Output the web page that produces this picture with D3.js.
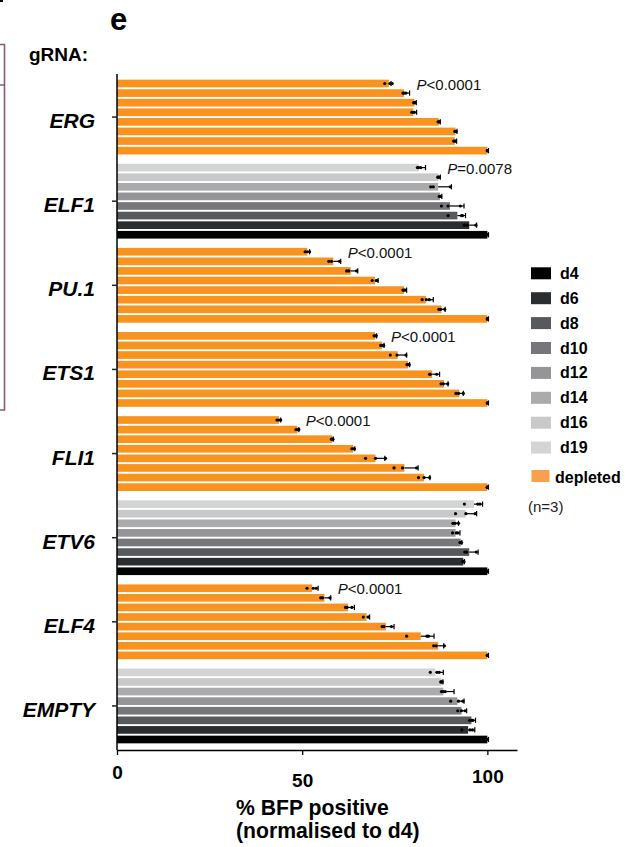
<!DOCTYPE html>
<html>
<head>
<meta charset="utf-8">
<script src="https://cdn.jsdelivr.net/npm/d3@7"></script>
<style>
  html, body { margin: 0; padding: 0; background: #fff; }
  svg { display: block; font-family: "Liberation Sans", Arial, sans-serif; }
</style>
</head>
<body>
<svg id="chart" width="626" height="847"></svg>
<script>
// ---------------- DATA ----------------
const genes = ["ERG", "ELF1", "PU.1", "ETS1", "FLI1", "ETV6", "ELF4", "EMPTY"];
const days = ["d4", "d6", "d8", "d10", "d12", "d14", "d16", "d19"];
const depletedGenes = ["ERG", "PU.1", "ETS1", "FLI1", "ELF4"];
const xTicks = [0, 50, 100];

// means, in order d4, d6, d8, d10, d12, d14, d16, d19
const meanERG   = [100, 91.2, 91.4, 86.9, 80.0, 80.3, 77.5, 73.4];
const meanELF1  = [100, 95.1, 91.9, 89.9, 87.2, 86.7, 86.8, 81.5];
const meanPU1   = [100, 87.6, 83.4, 77.5, 69.7, 63.1, 58.4, 51.4];
const meanETS1  = [100, 92.4, 88.3, 85.1, 78.6, 75.8, 71.6, 69.7];
const meanFLI1  = [100, 82.9, 77.6, 69.8, 63.8, 58.1, 48.7, 43.7];
const meanETV6  = [100, 93.5, 95.1, 92.8, 91.4, 91.4, 94.1, 96.4];
const meanELF4  = [100, 86.7, 82.0, 72.6, 67.4, 62.4, 56.0, 52.7];
const meanEMPTY = [100, 94.8, 95.7, 93.0, 91.9, 88.1, 87.6, 86.0];

// error (upper whisker length)
const errERG   = [0.3, 0.5, 0.4, 0.4, 0.9, 0.5, 1.5, 0.6];
const errELF1  = [0.3, 2.0, 2.2, 3.8, 0.5, 3.6, 0.5, 1.8];
const errPU1   = [0.3, 1.0, 2.0, 0.7, 0.8, 1.9, 2.0, 0.6];
const errETS1  = [0.3, 1.1, 1.1, 2.0, 0.4, 2.4, 0.5, 0.4];
const errFLI1  = [0.3, 1.6, 3.7, 2.5, 0.4, 0.3, 0.4, 0.5];
const errETV6  = [0.3, 0.3, 2.4, 0.3, 1.2, 0.8, 3.0, 2.3];
const errELF4  = [0.3, 1.5, 3.6, 2.2, 0.8, 1.7, 1.7, 1.6];
const errEMPTY = [0.3, 1.8, 1.1, 1.4, 1.8, 2.9, 0.4, 2.1];

// replicates (n=3)
const repsERG = [[100,100,100],[90.9,91.4,91.3],[91.2,91.5,91.5],[86.7,87.0,87.0],[79.6,80.1,80.3],[80.1,80.4,80.4],[77.2,77.5,78.0],[72.3,73.7,74.3]];
const repsELF1 = [[100,100,100],[93.8,94.6,96.9],[89.4,93.0,93.3],[87.6,89.4,92.7],[87.0,87.2,87.4],[84.7,85.4,90.0],[86.6,86.8,87.0],[81.1,81.4,82.0]];
const repsPU1 = [[100,100,100],[86.9,87.4,88.5],[82.4,83.5,84.3],[77.2,77.5,77.8],[68.9,70.0,70.2],[62.0,62.6,64.7],[57.2,57.9,60.1],[50.8,51.4,52.0]];
const repsETS1 = [[100,100,100],[91.5,92.2,93.5],[87.5,88.1,89.3],[84.4,84.6,86.3],[78.3,78.6,78.9],[73.8,75.6,78.0],[71.2,71.6,72.0],[69.4,69.7,70.0]];
const repsFLI1 = [[100,100,100],[81.4,82.9,84.4],[74.8,77.1,80.9],[67.1,69.8,72.5],[63.4,63.9,64.1],[57.9,58.1,58.3],[48.3,48.7,49.1],[43.2,43.7,44.2]];
const repsETV6 = [[100,100,100],[93.3,93.5,93.7],[93.9,94.4,97.0],[92.6,92.8,93.0],[90.6,91.6,92.0],[90.7,91.3,92.2],[91.4,94.2,96.7],[93.8,97.4,98.0]];
const repsELF4 = [[100,100,100],[85.5,86.2,88.4],[78.2,83.7,84.1],[71.6,72.1,74.1],[66.5,67.8,67.9],[61.7,62.1,63.4],[55.0,55.5,57.5],[51.3,53.0,53.8]];
const repsEMPTY = [[100,100,100],[93.1,95.3,96.0],[95.2,95.8,96.1],[92.0,93.0,94.0],[90.1,92.2,93.4],[87.6,88.1,88.6],[87.4,87.6,87.8],[84.6,86.4,87.0]];

// significance labels
const pGenes  = ["ERG", "ELF1", "PU.1", "ETS1", "FLI1", "ELF4"];
const pSigns  = ["<", "=", "<", "<", "<", "<"];
const pValues = ["0.0001", "0.0078", "0.0001", "0.0001", "0.0001", "0.0001"];

// ---------------- TABLE ----------------
const meansBy = {ERG: meanERG, ELF1: meanELF1, "PU.1": meanPU1, ETS1: meanETS1, FLI1: meanFLI1, ETV6: meanETV6, ELF4: meanELF4, EMPTY: meanEMPTY};
const errsBy  = {ERG: errERG, ELF1: errELF1, "PU.1": errPU1, ETS1: errETS1, FLI1: errFLI1, ETV6: errETV6, ELF4: errELF4, EMPTY: errEMPTY};
const repsBy  = {ERG: repsERG, ELF1: repsELF1, "PU.1": repsPU1, ETS1: repsETS1, FLI1: repsFLI1, ETV6: repsETV6, ELF4: repsELF4, EMPTY: repsEMPTY};

const rows = [];
genes.forEach(g => days.forEach((d, i) => rows.push({
  gene: g, day: d, mean: meansBy[g][i], err: errsBy[g][i], reps: repsBy[g][i],
  depleted: depletedGenes.includes(g)
})));

// ---------------- STYLE ----------------
const dayColor = d3.scaleOrdinal()
  .domain(days)
  .range(["#000000", "#2b2e30", "#575a5c", "#75777a", "#959597", "#a9abad", "#c9c9c9", "#d3d5d5"]);
const orange = "#f7931e";
const orangeLegend = "#f9a04d";
const boxColor = "#8c5d65";

const svg = d3.select("#chart");

// ---------------- SCALES ----------------
const x = d3.scaleLinear().domain([0, 108]).range([117, 517]);
const yGroup = d3.scaleBand().domain(genes).range([75, 748]).padding(0);
const yDay = d3.scaleBand().domain(days.slice().reverse())
  .range([3.7, yGroup.bandwidth() - 3.7]).paddingInner(0.2).paddingOuter(0.1);

// ---------------- DECOR ----------------
svg.append("rect").attr("x", 0).attr("y", 0).attr("width", 3).attr("height", 2).attr("fill", "#000");
svg.append("path")
  .attr("d", "M0,44.5 H4.5 V85 H0 M4.5,85 V410 H0")
  .attr("fill", "none").attr("stroke", boxColor).attr("stroke-width", 1.6);

svg.append("text").attr("x", 110).attr("y", 30)
  .attr("font-size", 31).attr("font-weight", "bold").text("e");
svg.append("text").attr("x", 29).attr("y", 61)
  .attr("font-size", 19).attr("font-weight", "bold").text("gRNA:");

// ---------------- BARS ----------------
const gBars = svg.append("g");
const bar = gBars.selectAll("g.bar").data(rows).join("g")
  .attr("class", "bar")
  .attr("transform", d => `translate(0,${yGroup(d.gene) + yDay(d.day)})`);

bar.append("rect")
  .attr("x", x(0))
  .attr("y", 0)
  .attr("width", d => x(d.mean) - x(0))
  .attr("height", yDay.bandwidth())
  .attr("fill", d => d.depleted ? orange : dayColor(d.day));

const hb = yDay.bandwidth() / 2;
// error bars (upper)
bar.append("line")
  .attr("x1", d => x(d.mean)).attr("x2", d => x(d.mean + d.err))
  .attr("y1", hb).attr("y2", hb)
  .attr("stroke", "#000").attr("stroke-width", 1.2);
bar.append("line")
  .attr("x1", d => x(d.mean + d.err)).attr("x2", d => x(d.mean + d.err))
  .attr("y1", hb - 2.6).attr("y2", hb + 2.6)
  .attr("stroke", "#000").attr("stroke-width", 1.2);
// replicate dots
bar.selectAll("circle").data(d => d.reps).join("circle")
  .attr("cx", v => x(v)).attr("cy", hb).attr("r", 1.6).attr("fill", "#000");

// ---------------- P VALUES ----------------
const topDays = [days[days.length - 1], days[days.length - 2]];
pGenes.forEach((g, i) => {
  const ends = rows.filter(r => r.gene === g && topDays.includes(r.day)).map(r => x(r.mean + r.err));
  const t = svg.append("text")
    .attr("x", d3.max(ends) + 7)
    .attr("y", yGroup(g) + yDay(days[days.length - 1]) + yDay.bandwidth() + 2.3)
    .attr("font-size", 15).attr("fill", "#111");
  t.append("tspan").attr("font-style", "italic").text("P");
  t.append("tspan").text(pSigns[i] + pValues[i]);
});

// ---------------- AXES ----------------
// y axis
svg.append("line").attr("x1", x(0)).attr("x2", x(0)).attr("y1", 74).attr("y2", 750)
  .attr("stroke", "#000").attr("stroke-width", 1.5);
const yAxis = svg.append("g").attr("transform", `translate(${x(0)},0)`)
  .call(d3.axisLeft(yGroup).tickSize(5).tickSizeOuter(0).tickPadding(17));
yAxis.select(".domain").remove();
yAxis.selectAll(".tick line").attr("stroke", "#222").attr("stroke-width", 1.5);
yAxis.selectAll(".tick text")
  .attr("font-family", "'Liberation Sans', Arial, sans-serif")
  .attr("font-size", 21).attr("font-weight", "bold").attr("font-style", "italic")
  .attr("fill", "#000").attr("dy", 11);

// x axis
const xAxis = svg.append("g").attr("transform", "translate(0,750)")
  .call(d3.axisBottom(x).tickValues(xTicks).tickSize(5).tickSizeOuter(0).tickFormat(d3.format("d")));
xAxis.select(".domain").attr("stroke", "#000").attr("stroke-width", 1.3);
xAxis.selectAll(".tick line").attr("stroke", "#000").attr("stroke-width", 1.3);
const tickDy = {0: 29, 50: 36.5, 100: 33};
xAxis.selectAll(".tick text")
  .attr("font-family", "'Liberation Sans', Arial, sans-serif")
  .attr("font-size", 19).attr("font-weight", "bold").attr("fill", "#000")
  .attr("dy", 0).attr("y", d => tickDy[d]);

svg.append("text").attr("x", 236).attr("y", 815)
  .attr("font-size", 21.2).attr("font-weight", "bold").text("% BFP positive");
svg.append("text").attr("x", 236).attr("y", 838)
  .attr("font-size", 21.2).attr("font-weight", "bold").text("(normalised to d4)");

// ---------------- LEGEND ----------------
const legend = svg.append("g");
const li = legend.selectAll("g").data(days).join("g")
  .attr("transform", (d, i) => `translate(531,${267.3 + i * 24.9})`);
li.append("rect").attr("width", 20).attr("height", 12).attr("fill", d => dayColor(d));
li.append("text").attr("x", 29).attr("y", 11.5)
  .attr("font-size", 16).attr("font-weight", "bold").text(d => d);

legend.append("rect").attr("x", 531.5).attr("y", 470).attr("width", 18).attr("height", 12).attr("fill", orangeLegend);
legend.append("text").attr("x", 555).attr("y", 482.5)
  .attr("font-size", 16).attr("font-weight", "bold").text("depleted");
legend.append("text").attr("x", 528).attr("y", 511.5)
  .attr("font-size", 15).attr("fill", "#222").text("(n=3)");
</script>
</body>
</html>
